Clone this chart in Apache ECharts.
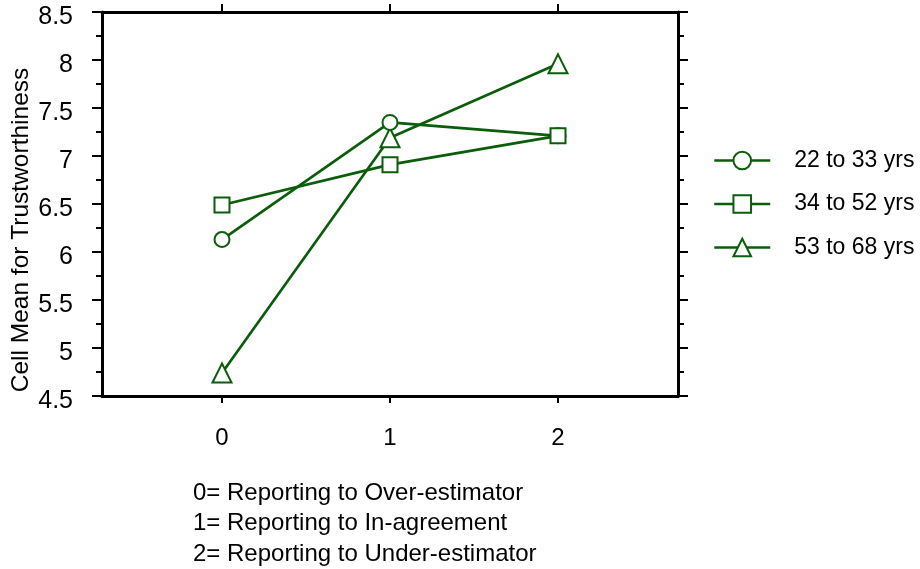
<!DOCTYPE html>
<html>
    <head>
        <meta charset="utf-8">
        <script src="https://cdn.jsdelivr.net/npm/echarts@6/dist/echarts.min.js"></script>
        <style>
            html, body { margin: 0; padding: 0; background: #fff; }
            #main { width: 920px; height: 569px; }
        </style>
    </head>
    <body>
        <div id="main"></div>
        <script>
            // data
            var xValues = [0, 1, 2];
            var groupNames = ['22 to 33 yrs', '34 to 52 yrs', '53 to 68 yrs'];
            var young = [6.13, 7.35, 7.21];
            var middle = [6.49, 6.91, 7.21];
            var older = [4.74, 7.19, 7.96];
            var notes = [
                '0= Reporting to Over-estimator',
                '1= Reporting to In-agreement',
                '2= Reporting to Under-estimator'
            ];
            var yTitle = 'Cell Mean for Trustworthiness';

            var green = '#0b5d0b';
            var font = '"Liberation Sans", Arial, sans-serif';

            function pairs(ys) {
                return xValues.map(function (x, i) { return [x, ys[i]]; });
            }

            var chart = echarts.init(document.getElementById('main'));

            var frameLine = { show: true, onZero: false, lineStyle: { color: '#000', width: 3 } };
            var tickStyle = { color: '#000', width: 2 };

            chart.setOption({
                animation: false,
                textStyle: { fontFamily: font },
                grid: { left: 102, top: 12, width: 576, height: 384 },
                legend: {
                    orient: 'vertical',
                    left: 713,
                    top: 149,
                    padding: 0,
                    itemWidth: 56,
                    itemHeight: 22,
                    itemGap: 20.5,
                    data: groupNames,
                    lineStyle: { width: 2.5 },
                    itemStyle: { borderWidth: 2.5 },
                    textStyle: { fontSize: 23, color: '#000', fontFamily: font, padding: [0, 0, 0, 19] }
                },
                xAxis: [{
                    type: 'value',
                    position: 'bottom',
                    min: -5 / 7,
                    max: 19 / 7,
                    splitLine: { show: false },
                    axisLine: frameLine,
                    axisTick: { show: true, inside: false, length: 7, customValues: xValues, lineStyle: tickStyle },
                    axisLabel: { show: true, customValues: xValues, margin: 30, fontSize: 24, color: '#000', fontFamily: font }
                }, {
                    type: 'value',
                    position: 'top',
                    min: -5 / 7,
                    max: 19 / 7,
                    splitLine: { show: false },
                    axisLine: frameLine,
                    axisTick: { show: true, inside: false, length: 8, customValues: xValues, lineStyle: tickStyle },
                    axisLabel: { show: false }
                }],
                yAxis: [{
                    type: 'value',
                    position: 'left',
                    min: 4.5,
                    max: 8.5,
                    interval: 0.5,
                    splitLine: { show: false },
                    axisLine: frameLine,
                    axisTick: { show: true, inside: false, length: 10, lineStyle: tickStyle },
                    minorTick: { show: true, splitNumber: 2, length: 6, lineStyle: tickStyle },
                    axisLabel: {
                        margin: 29,
                        formatter: function (v) { return '{t|' + v + '}'; },
                        rich: {
                            t: { fontSize: 25, color: '#000', fontFamily: font, padding: [10, 0, 0, 0] }
                        }
                    }
                }, {
                    type: 'value',
                    position: 'right',
                    min: 4.5,
                    max: 8.5,
                    interval: 0.5,
                    splitLine: { show: false },
                    axisLine: frameLine,
                    axisTick: { show: true, inside: false, length: 10, lineStyle: tickStyle },
                    minorTick: { show: true, splitNumber: 2, length: 6, lineStyle: tickStyle },
                    axisLabel: { show: false }
                }],
                graphic: [{
                    type: 'text',
                    x: 21,
                    y: 230,
                    rotation: Math.PI / 2,
                    style: {
                        text: yTitle,
                        fontSize: 24.5,
                        fontFamily: font,
                        fill: '#000',
                        align: 'center',
                        verticalAlign: 'middle'
                    }
                }].concat(notes.map(function (t, i) {
                    return {
                        type: 'text',
                        x: 193,
                        y: 493 + i * 30.5,
                        style: {
                            text: t,
                            fontSize: 24,
                            fontFamily: font,
                            fill: '#000',
                            align: 'left',
                            verticalAlign: 'middle'
                        }
                    };
                })),
                series: [{
                    name: groupNames[0],
                    type: 'line',
                    data: pairs(young),
                    symbol: 'emptyCircle',
                    symbolSize: 15,
                    z: 3,
                    color: green,
                    lineStyle: { width: 2.7, color: green },
                    itemStyle: { color: green, borderWidth: 2.5 }
                }, {
                    name: groupNames[1],
                    type: 'line',
                    data: pairs(middle),
                    symbol: 'emptyRect',
                    symbolSize: 15,
                    z: 4,
                    color: green,
                    lineStyle: { width: 2.7, color: green },
                    itemStyle: { color: green, borderWidth: 2.5 }
                }, {
                    name: groupNames[2],
                    type: 'line',
                    data: pairs(older),
                    symbol: 'emptyTriangle',
                    symbolSize: 19,
                    z: 2,
                    color: green,
                    lineStyle: { width: 2.7, color: green },
                    itemStyle: { color: green, borderWidth: 2.5 }
                }]
            });

            window.onresize = chart.resize;
        </script>
    </body>
</html>
